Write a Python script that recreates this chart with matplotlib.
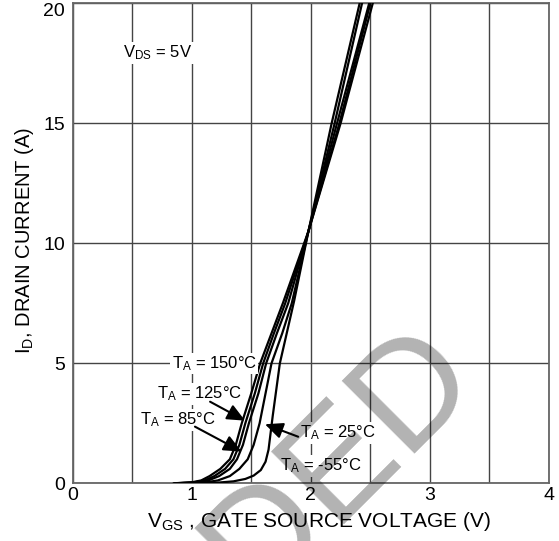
import numpy as np
import matplotlib
matplotlib.use("Agg")
import matplotlib.pyplot as plt

plt.rcParams['font.family'] = ['Liberation Sans', 'DejaVu Sans']
plt.rcParams['mathtext.default'] = 'regular'

# transfer curves, one per ambient temperature
id_a = [0.00, 0.04, 0.12, 0.30, 0.60, 1.00, 1.60, 2.50, 3.75, 5.00, 6.25, 7.50, 10.5, 15.0, 20.0]
vgs_150 = [0.85, 1.00, 1.08, 1.15, 1.24, 1.32, 1.37, 1.42, 1.50, 1.575, 1.67, 1.765, 1.98, 2.25, 2.52]
vgs_125 = [0.86, 1.02, 1.11, 1.19, 1.28, 1.35, 1.40, 1.45, 1.53, 1.60, 1.69, 1.785, 1.98, 2.24, 2.50]
vgs_85 = [0.88, 1.05, 1.14, 1.23, 1.32, 1.38, 1.43, 1.48, 1.56, 1.625, 1.715, 1.81, 1.98, 2.22, 2.49]
vgs_25 = [0.92, 1.12, 1.22, 1.32, 1.40, 1.47, 1.52, 1.57, 1.62, 1.67, 1.76, 1.84, 1.98, 2.20, 2.43]

vgs_m55 = [0.95, 1.20, 1.35, 1.45, 1.52, 1.58, 1.62, 1.645, 1.66, 1.68, 1.71, 1.74, 1.86, 1.98, 2.175, 2.41]
id_m55 = [0.00, 0.02, 0.08, 0.18, 0.32, 0.55, 0.90, 1.40, 2.00, 2.80, 3.90, 5.00, 7.60, 10.5, 15.0, 20.0]

x_ticks = [0, 1, 2, 3, 4]
y_ticks = [0, 5, 10, 15, 20]

fig = plt.figure(figsize=(5.59, 5.41), dpi=100)
ax = fig.add_axes([0.130, 0.1067, 0.852, 0.887])
ax.set_facecolor('white')

for xs in (vgs_150, vgs_125, vgs_85, vgs_25):
    ax.plot(xs, id_a, color='black', lw=1.6, zorder=3)
ax.plot(vgs_m55, id_m55, color='black', lw=1.6, zorder=3)

ax.set_xlim(0, 4)
ax.set_ylim(0, 20)
ax.set_xticks(x_ticks)
ax.set_xticks(np.arange(0.5, 4, 1.0), minor=True)
ax.set_yticks(y_ticks)
ax.grid(True, which='both', color='#444444', lw=1.0)
ax.set_axisbelow(True)
ax.tick_params(which='both', length=0, labelsize=14)
ax.tick_params(axis='x', pad=2.5)
ax.tick_params(axis='y', pad=5.5)
ax.get_yticklabels()[-1].set_va('top')
for s in ax.spines.values():
    s.set_color('#666666')
    s.set_linewidth(1.3)

box = dict(facecolor='white', edgecolor='none', pad=1.0)
fs = 12
ax.text(0.831, 5.0, r'$T_A$ = 150°C', fontsize=fs, ha='left', va='center', bbox=box, zorder=4)
ax.text(0.705, 3.72, r'$T_A$ = 125°C', fontsize=fs, ha='left', va='center', bbox=box, zorder=4)
ax.text(0.565, 2.64, r'$T_A$ = 85°C', fontsize=fs, ha='left', va='center', bbox=box, zorder=4)
ax.text(1.909, 2.10, r'$T_A$ = 25°C', fontsize=fs, ha='left', va='center', bbox=box, zorder=4)
ax.text(1.741, 0.72, r'$T_A$ = -55°C', fontsize=fs, ha='left', va='center', bbox=box, zorder=4)
ax.text(0.425, 17.93, r'$V_{DS}$ = 5V', fontsize=fs, ha='left', va='center', bbox=box, zorder=4)

arrow = dict(arrowstyle='-|>,head_length=0.6,head_width=0.27', color='black', lw=1.5,
             mutation_scale=18, shrinkA=0, shrinkB=0)
ax.annotate('', xy=(1.448, 2.61), xytext=(1.154, 3.40), arrowprops=arrow, zorder=5)
ax.annotate('', xy=(1.419, 1.32), xytext=(1.027, 2.36), arrowprops=arrow, zorder=5)
ax.annotate('', xy=(1.615, 2.46), xytext=(1.894, 1.94), arrowprops=arrow, zorder=5)

fig.text(0.5707, 0.0264, r'$V_{GS}$ , GATE SOURCE VOLTAGE (V)', fontsize=15,
         ha='center', va='baseline')
fig.text(36 / 559, 0.556, r'$I_D$, DRAIN CURRENT (A)', fontsize=14.5,
         rotation=90, ha='right', va='center')

# grey watermark, drawn on top like a multiply blend
fig.text(0.8587, 0.3039, 'RECOMMENDED', fontsize=108, rotation=45,
         rotation_mode='anchor', ha='right', va='baseline',
         color='black', alpha=0.30, zorder=10)

fig.savefig('out.png', dpi=100)
